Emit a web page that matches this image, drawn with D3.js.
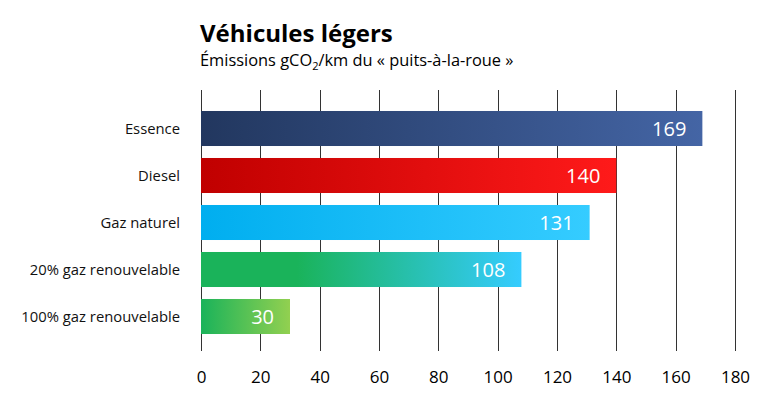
<!DOCTYPE html>
<html><head><meta charset="utf-8">
<script src="https://cdn.jsdelivr.net/npm/d3@7/dist/d3.min.js"></script>
<style>body{margin:0;background:#fff}svg{display:block}text{font-family:"Open Sans",sans-serif}</style>
</head><body><svg id="c" width="769" height="402"></svg>
<script>
const categories = ["Essence","Diesel","Gaz naturel","20% gaz renouvelable","100% gaz renouvelable"];
const values = [169,140,131,108,30];
const ticks = [0,20,40,60,80,100,120,140,160,180];
const gradients = [["#22375f","#4465a5"],["#c00000","#ff1a1a"],["#00aeef","#35ccff"],["#1ab35a","#35ccff"],["#1ab35a","#92d050"]];

const svg = d3.select("#c");
const x = d3.scaleLinear().domain([0,180]).range([201,735]);
const y = d3.scaleBand().domain(categories).range([105,340]).paddingInner(0.255).paddingOuter(0.1275);

const defs = svg.append("defs");
gradients.forEach((g,i)=>{
  const lg = defs.append("linearGradient").attr("id","g"+i).attr("x1","0").attr("x2","1").attr("y1","0").attr("y2","0");
  lg.append("stop").attr("offset","0").attr("stop-color",g[0]);
  if(i===3) lg.append("stop").attr("offset","0.3").attr("stop-color",g[0]);
  lg.append("stop").attr("offset","1").attr("stop-color",g[1]);
});

// gridlines
svg.append("g").selectAll("line").data(ticks).join("line")
  .attr("x1",d=>Math.round(x(d))+0.5).attr("x2",d=>Math.round(x(d))+0.5)
  .attr("y1",90).attr("y2",351).attr("stroke","#333").attr("stroke-width",1);

// bars
svg.append("g").selectAll("rect").data(values).join("rect")
  .attr("x",x(0)).attr("y",(d,i)=>y(categories[i]))
  .attr("width",d=>x(d)-x(0)).attr("height",y.bandwidth())
  .attr("fill",(d,i)=>`url(#g${i})`);

// value labels
svg.append("g").selectAll("text").data(values).join("text")
  .attr("x",d=>x(d)-16).attr("y",(d,i)=>y(categories[i])+y.bandwidth()/2)
  .attr("dy","0.36em").attr("text-anchor","end").attr("fill","#fff")
  .style("font-size","20px").text(d=>d);

// category labels
svg.append("g").selectAll("text").data(categories).join("text")
  .attr("x",180).attr("y",d=>y(d)+y.bandwidth()/2).attr("dy","0.35em")
  .attr("text-anchor","end").attr("fill","#111").style("font-size","14.8px").text(d=>d);

// x axis labels
const ax = svg.append("g").attr("transform","translate(0,351)")
  .call(d3.axisBottom(x).tickValues(ticks).tickSize(0).tickPadding(20));
ax.select(".domain").remove();
ax.selectAll("text").attr("fill","#000").style("font-size","17px").style("font-family","'Open Sans',sans-serif");

// title
svg.append("text").attr("x",200).attr("y",42).style("font-size","24px").style("font-weight","bold").attr("fill","#000").text("Véhicules légers");
const st = svg.append("text").attr("x",200).attr("y",66).style("font-size","16.4px").attr("fill","#000");
st.append("tspan").text("Émissions gCO");
st.append("tspan").attr("dy",4).style("font-size","11px").text("2");
st.append("tspan").attr("dy",-4).text("/km du « puits-à-la-roue »");
</script></body></html>
